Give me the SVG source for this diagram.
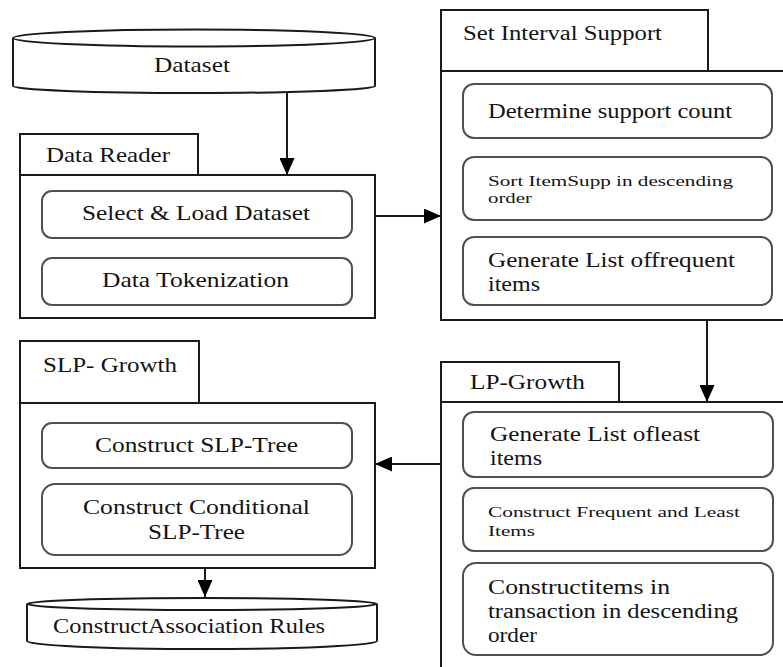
<svg xmlns="http://www.w3.org/2000/svg" width="783" height="667" viewBox="0 0 783 667">
<style>
.frame{fill:#fff;stroke:#1a1a1a;stroke-width:2}
.inner{fill:#fff;stroke:#505050;stroke-width:2}
.conn{fill:none;stroke:#1a1a1a;stroke-width:2}
text{font-family:"Liberation Serif","Times New Roman",serif;fill:#141414}
.h{font-size:22px}
.b{font-size:20px}
.s{font-size:14px}
</style>
<defs>
<marker id="arr" markerUnits="userSpaceOnUse" markerWidth="17" markerHeight="15" refX="17" refY="7.5" orient="auto">
<path d="M0,0 L17,7.5 L0,15 z" fill="#000"/>
</marker>
</defs>
<rect width="783" height="667" fill="#fff"/>

<g id="dataset">
<path class="frame" d="M13,38 L13,86 A181,7 0 0 0 375,86 L375,38"/>
<ellipse class="frame" cx="194" cy="38" rx="181" ry="8.5"/>
<text class="h" x="154" y="72" textLength="76" lengthAdjust="spacingAndGlyphs">Dataset</text>
</g>

<g id="data-reader">
<rect class="frame" x="20" y="134" width="178" height="41"/>
<rect class="frame" x="20" y="175" width="355" height="143"/>
<text class="h" x="46" y="162" textLength="124" lengthAdjust="spacingAndGlyphs">Data Reader</text>
<rect class="inner" x="42" y="191" width="310" height="47" rx="10"/>
<text class="h" x="82" y="220" textLength="228" lengthAdjust="spacingAndGlyphs">Select &amp; Load Dataset</text>
<rect class="inner" x="42" y="258" width="310" height="47" rx="10"/>
<text class="h" x="102" y="287" textLength="187" lengthAdjust="spacingAndGlyphs">Data Tokenization</text>
</g>

<g id="set-interval-support">
<rect class="frame" x="441" y="10" width="267" height="61"/>
<rect class="frame" x="441" y="71" width="352" height="249"/>
<text class="b" x="463" y="40" textLength="199" lengthAdjust="spacingAndGlyphs">Set Interval Support</text>
<rect class="inner" x="463" y="84" width="309" height="54" rx="11"/>
<text class="b" x="488" y="118" textLength="244" lengthAdjust="spacingAndGlyphs">Determine support count</text>
<rect class="inner" x="463" y="157" width="309" height="63" rx="11"/>
<text class="s" x="488" y="186" textLength="245" lengthAdjust="spacingAndGlyphs">Sort ItemSupp in descending</text>
<text class="s" x="488" y="203" textLength="44" lengthAdjust="spacingAndGlyphs">order</text>
<rect class="inner" x="463" y="237" width="309" height="68" rx="11"/>
<text class="b" x="488" y="267" textLength="247" lengthAdjust="spacingAndGlyphs">Generate List offrequent</text>
<text class="b" x="488" y="291" textLength="52" lengthAdjust="spacingAndGlyphs">items</text>
</g>

<g id="lp-growth">
<rect class="frame" x="441" y="362" width="178" height="40"/>
<rect class="frame" x="441" y="402" width="352" height="280"/>
<text class="b" x="470" y="389" textLength="115" lengthAdjust="spacingAndGlyphs">LP-Growth</text>
<rect class="inner" x="463" y="412" width="310" height="65" rx="11"/>
<text class="b" x="490" y="441" textLength="210" lengthAdjust="spacingAndGlyphs">Generate List ofleast</text>
<text class="b" x="490" y="465" textLength="52" lengthAdjust="spacingAndGlyphs">items</text>
<rect class="inner" x="463" y="488" width="310" height="63" rx="11"/>
<text class="s" x="488" y="517" textLength="252" lengthAdjust="spacingAndGlyphs">Construct Frequent and Least</text>
<text class="s" x="488" y="536" textLength="47" lengthAdjust="spacingAndGlyphs">Items</text>
<rect class="inner" x="463" y="563" width="310" height="92" rx="13"/>
<text class="b" x="488" y="594" textLength="182" lengthAdjust="spacingAndGlyphs">Constructitems in</text>
<text class="b" x="488" y="618" textLength="250" lengthAdjust="spacingAndGlyphs">transaction in descending</text>
<text class="b" x="488" y="642" textLength="49" lengthAdjust="spacingAndGlyphs">order</text>
</g>

<g id="slp-growth">
<rect class="frame" x="20" y="341" width="179" height="62"/>
<rect class="frame" x="20" y="403" width="355" height="165"/>
<text class="h" x="43" y="372" textLength="134" lengthAdjust="spacingAndGlyphs">SLP- Growth</text>
<rect class="inner" x="42" y="423" width="310" height="45" rx="10"/>
<text class="h" x="95" y="452" textLength="203" lengthAdjust="spacingAndGlyphs">Construct SLP-Tree</text>
<rect class="inner" x="42" y="484" width="310" height="71" rx="13"/>
<text class="h" x="83" y="514" textLength="227" lengthAdjust="spacingAndGlyphs">Construct Conditional</text>
<text class="h" x="148" y="539" textLength="97" lengthAdjust="spacingAndGlyphs">SLP-Tree</text>
</g>

<g id="association-rules">
<path class="frame" d="M27,604 L27,641 A175,8 0 0 0 377,641 L377,604"/>
<ellipse class="frame" cx="202" cy="604" rx="175" ry="6"/>
<text class="h" x="53" y="633" textLength="272" lengthAdjust="spacingAndGlyphs">ConstructAssociation Rules</text>
</g>

<g id="connectors">
<line class="conn" x1="287" y1="92" x2="287" y2="175" marker-end="url(#arr)"/>
<line class="conn" x1="375" y1="216" x2="441" y2="216" marker-end="url(#arr)"/>
<line class="conn" x1="707" y1="320" x2="707" y2="402" marker-end="url(#arr)"/>
<line class="conn" x1="441" y1="464" x2="375" y2="464" marker-end="url(#arr)"/>
<line class="conn" x1="205" y1="568" x2="205" y2="597" marker-end="url(#arr)"/>
</g>
</svg>
